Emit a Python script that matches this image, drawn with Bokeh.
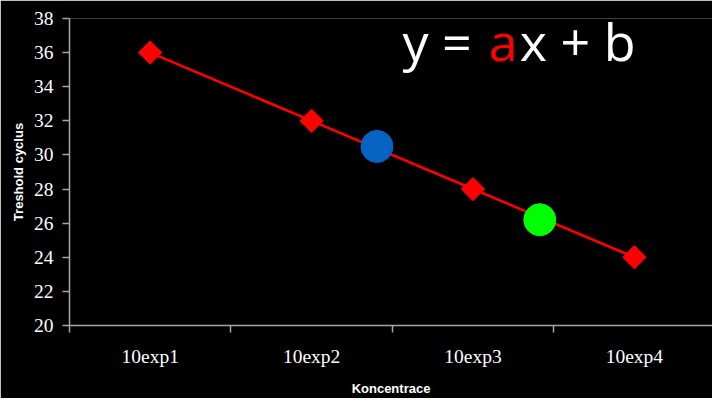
import math
from bokeh.plotting import figure
from bokeh.models import Range1d, FixedTicker, Label
from bokeh.embed import file_html
from bokeh.resources import INLINE

# ---- data ----
categories = ["10exp1", "10exp2", "10exp3", "10exp4"]
cat_pos = [0.5, 1.5, 2.5, 3.5]
ct_values = [36, 32, 28, 24]
sample_x = [1.905, 2.914]
sample_y = [30.5, 26.2]
sample_colors = ["#0563C1", "#00FF00"]
y_ticks = [20, 22, 24, 26, 28, 30, 32, 34, 36, 38]
x_bounds = [0, 1, 2, 3, 4]

p = figure(width=712, height=398, output_backend="svg", toolbar_location=None,
           x_range=Range1d(0, 3.984), y_range=Range1d(20, 38),
           min_border_left=69, min_border_top=18, min_border_right=0, min_border_bottom=72)
p.background_fill_color = "black"
p.border_fill_color = "black"
p.outline_line_color = None
p.grid.grid_line_color = None

# x axis
p.xaxis.ticker = FixedTicker(ticks=cat_pos, minor_ticks=x_bounds)
p.xaxis.major_label_overrides = {v: c for v, c in zip(cat_pos, categories)}
p.xaxis.major_tick_out = 0
p.xaxis.major_tick_in = 0
p.xaxis.minor_tick_out = 7
p.xaxis.minor_tick_in = 0
p.xaxis.minor_tick_line_color = "#a6a6a6"
p.xaxis.minor_tick_line_width = 1.5
p.xaxis.axis_line_color = "#a6a6a6"
p.xaxis.axis_line_width = 1.5
p.xaxis.major_label_text_font = "Liberation Serif"
p.xaxis.major_label_text_font_size = "19.5px"
p.xaxis.major_label_text_color = "white"
p.xaxis.major_label_standoff = 13
p.xaxis.axis_label = "Koncentrace"
p.xaxis.axis_label_text_font = "Liberation Sans"
p.xaxis.axis_label_text_font_style = "bold"
p.xaxis.axis_label_text_font_size = "13px"
p.xaxis.axis_label_text_color = "white"
p.xaxis.axis_label_standoff = 11

# y axis
p.yaxis.ticker = FixedTicker(ticks=y_ticks, minor_ticks=[])
p.yaxis.major_tick_out = 7
p.yaxis.major_tick_in = 0
p.yaxis.major_tick_line_color = "#a6a6a6"
p.yaxis.major_tick_line_width = 1.5
p.yaxis.axis_line_color = "#a6a6a6"
p.yaxis.axis_line_width = 1.5
p.yaxis.major_label_text_font = "Liberation Serif"
p.yaxis.major_label_text_font_size = "19.5px"
p.yaxis.major_label_text_color = "white"
p.yaxis.major_label_standoff = 9
p.yaxis.axis_label = "Treshold cyclus"
p.yaxis.axis_label_text_font = "Liberation Sans"
p.yaxis.axis_label_text_font_style = "bold"
p.yaxis.axis_label_text_font_size = "13px"
p.yaxis.axis_label_text_color = "white"
p.yaxis.axis_label_standoff = 5

# data
p.line(cat_pos, ct_values, line_color="red", line_width=2.6)
p.scatter(cat_pos, ct_values, marker="square", size=16.5, angle=math.pi / 4,
          fill_color="red", line_color="red")
p.scatter(sample_x, sample_y, marker="circle", size=32,
          fill_color=sample_colors, line_color=sample_colors)

# equation
eq_y = 36.7
for txt, xx, col in [("y = ", 2.063, "white"), ("a", 2.597, "red"), ("x + b", 2.79, "white")]:
    p.add_layout(Label(x=xx, y=eq_y, text=txt, text_color=col, text_font="Open Sans",
                       text_font_size="52px", text_baseline="alphabetic", text_align="left"))

open("out.html", "w").write(file_html(p, INLINE))
